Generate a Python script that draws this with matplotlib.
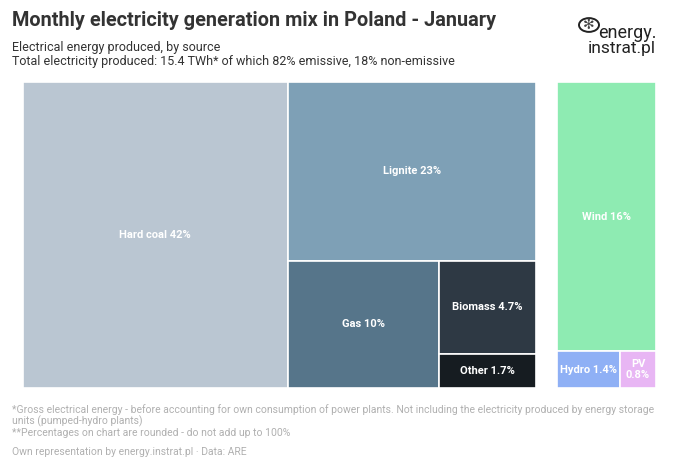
import matplotlib
matplotlib.use("Agg")
from matplotlib import pyplot as plt
from matplotlib.patches import Rectangle, Circle

plt.rcParams['font.family'] = ['Roboto', 'DejaVu Sans']

# data
emissive_labels = ['Hard coal', 'Lignite', 'Gas', 'Biomass', 'Other']
emissive_values = [42, 23, 10, 4.7, 1.7]
emissive_colors = ['#bac6d2', '#7ea0b6', '#56758a', '#2e3944', '#161c21']

clean_labels = ['Wind', 'Hydro', 'PV']
clean_values = [16, 1.4, 0.8]
clean_colors = ['#8eebb2', '#8fb0f5', '#e8b6f4']


def slice_layout(values, x, y, w, h):
    # take the first item, cut along the longer side, recurse on the rest
    rects = []
    total = sum(values)
    for i, v in enumerate(values):
        if i == len(values) - 1:
            rects.append((x, y, w, h))
            break
        frac = v / total
        if w >= h:
            rects.append((x, y, w * frac, h))
            x, w = x + w * frac, w * (1 - frac)
        else:
            rects.append((x, y + h * (1 - frac), w, h * frac))
            h = h * (1 - frac)
        total -= v
    return rects


def fmt(v):
    return f'{v:g}%'


def draw_group(ax, labels, values, colors, px_w, px_h):
    ax.set_xlim(0, px_w)
    ax.set_ylim(0, px_h)
    ax.axis('off')
    for (x, y, w, h), lab, v, c in zip(slice_layout(values, 0, 0, px_w, px_h), labels, values, colors):
        ax.add_patch(Rectangle((x, y), w, h, facecolor=c, edgecolor='white', lw=1.2))
        txt = f'{lab} {fmt(v)}'
        if w < 50:
            txt = f'{lab}\n{fmt(v)}'
        ax.text(x + w / 2, y + h / 2, txt, ha='center', va='center', color='white',
                fontsize=8, fontweight='bold', linespacing=1.05)


fig = plt.figure(figsize=(6.8, 4.69), dpi=100)
W, H = 680, 469

axL = fig.add_axes([23 / W, 1 - 388 / H, 513 / W, 306 / H])
draw_group(axL, emissive_labels, emissive_values, emissive_colors, 513, 306)
axR = fig.add_axes([557 / W, 1 - 388 / H, 99 / W, 306 / H])
draw_group(axR, clean_labels, clean_values, clean_colors, 99, 306)

fig.text(12 / W, 1 - 20 / H, 'Monthly electricity generation mix in Poland - January',
         fontsize=14.3, fontweight='bold', color='#333333', va='center')
fig.text(12 / W, 1 - 47 / H, 'Electrical energy produced, by source',
         fontsize=9, color='#333333', va='center')
fig.text(12 / W, 1 - 61 / H, 'Total electricity produced: 15.4 TWh* of which 82% emissive, 18% non-emissive',
         fontsize=9, color='#333333', va='center')

# logo
fig.text(598 / W, 1 - 33 / H, 'energy.', fontsize=13, color='#222222', va='center')
fig.text(588 / W, 1 - 48 / H, 'instrat.pl', fontsize=12.5, color='#222222', va='center')
fig.patches.append(Circle((589 / W, 1 - 25 / H), 10 / W, transform=fig.transFigure,
                          fill=False, edgecolor='#222222', lw=1.4))
fig.text(589 / W, 1 - 25 / H, '✻', fontsize=10, color='#444444', ha='center', va='center')

notes = ('*Gross electrical energy - before accounting for own consumption of power plants. Not including the electricity produced by energy storage\n'
         'units (pumped-hydro plants)\n'
         '**Percentages on chart are rounded - do not add up to 100%')
fig.text(12 / W, 1 - 404 / H, notes, fontsize=7.5, color='#b0b0b0', va='top', linespacing=1.1)
fig.text(12 / W, 1 - 452 / H, 'Own representation by energy.instrat.pl · Data: ARE',
         fontsize=7.5, color='#b0b0b0', va='center')

fig.savefig('out.png', dpi=100)
